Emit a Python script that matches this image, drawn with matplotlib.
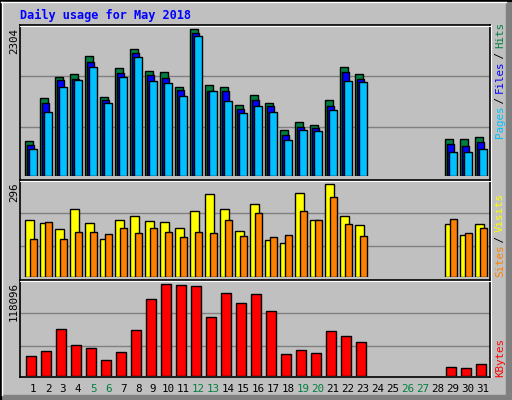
import matplotlib
matplotlib.use("Agg")
import matplotlib.pyplot as plt
from matplotlib.lines import Line2D
from matplotlib.patches import Rectangle

days = list(range(1, 32))
hits = [544,1218,1547,1594,1876,1233,1688,1986,1641,1625,1390,2300,1422,1390,1108,1265,1139,716,842,795,1187,1704,1594,0,0,0,0,0,575,575,611]
files = [481,1139,1500,1516,1782,1187,1610,1923,1578,1531,1343,2237,1328,1328,1045,1187,1092,638,763,748,1092,1625,1516,0,0,0,0,0,497,465,528]
pages = [418,998,1390,1500,1704,1139,1547,1860,1484,1453,1249,2190,1328,1171,983,1092,998,559,716,700,1030,1484,1469,0,0,0,0,0,371,371,418]
visits = [180,171,152,216,171,120,180,193,177,174,155,209,264,216,145,232,116,107,267,180,296,196,164,0,0,0,0,0,168,132,168]
sites = [120,174,120,142,142,136,155,139,155,142,126,142,139,180,129,203,126,132,209,180,254,168,129,0,0,0,0,0,184,139,155]
kbytes = [25350,31790,60120,39500,35640,20200,30480,58810,98720,118096,116800,115500,75560,106450,93580,105160,83280,27920,33080,29220,57540,51100,43380,0,0,0,0,0,11200,9910,15060]
weekend = [5,6,12,13,19,20,26,27]

W, H = 512, 400
fig = plt.figure(figsize=(W/100, H/100), dpi=100)
fig.patch.set_facecolor('#C0C0C0')

def fx(px): return px / W
def fy(py): return 1 - py / H
def hline(x0, x1, y, c, lw=1.0):
    fig.add_artist(Line2D([fx(x0), fx(x1)], [fy(y), fy(y)], color=c, lw=lw, zorder=5))
def vline(x, y0, y1, c, lw=1.0):
    fig.add_artist(Line2D([fx(x), fx(x)], [fy(y0), fy(y1)], color=c, lw=lw, zorder=5))

# outer border and shadow
fig.add_artist(Rectangle((fx(506), 0), fx(6), 1, color='#808080', zorder=-1))
fig.add_artist(Rectangle((0, 0), 1, 5/H, color='#808080', zorder=-1))
hline(0, 512, 0.5, 'black', 1.5); vline(0.5, 0, 400, 'black', 1.5)
hline(1, 506, 2, 'white'); vline(2, 2, 395, 'white')

XL, XR = 20, 490
xmin = 1 - 5/15
xmax = 1 + (XR - 25)/15

def mkax(top, bot, ymax, grids):
    ax = fig.add_axes([fx(XL), fy(bot), fx(XR) - fx(XL), fy(top) - fy(bot)])
    ax.set_facecolor('#C0C0C0')
    ax.set_xlim(xmin, xmax); ax.set_ylim(0, ymax)
    for s in ax.spines.values(): s.set_visible(False)
    ax.set_xticks([]); ax.set_yticks([])
    for g in grids: ax.axhline(g, color='#808080', lw=1, zorder=0)
    return ax

ax1 = mkax(25, 176, 2304*151/147, [768, 1560])
ax2 = mkax(180, 276.7, 309.7, [97.4, 203])
ax3 = mkax(280, 376, 123636, [38636, 80746])

ec = dict(edgecolor='black', linewidth=1.0, align='edge')
def px2d(p): return p / 15
ax1.bar([d for d in days], hits, width=px2d(7.5), color='#008040', **ec, zorder=2)
ax1.bar([d + px2d(2) for d in days], files, width=px2d(7), color='#0000FF', **ec, zorder=3)
ax1.bar([d + px2d(4) for d in days], pages, width=px2d(7.5), color='#00C0FF', **ec, zorder=4)
ax2.bar([d + px2d(0.3) for d in days], visits, width=px2d(8.4), color='#FFFF00', **ec, zorder=2)
ax2.bar([d + px2d(4.7) for d in days], sites, width=px2d(7), color='#FF8000', **ec, zorder=3)
ax3.bar([d + px2d(1.3) for d in days], kbytes, width=px2d(10), color='#FF0000', **ec, zorder=2)
for ax in (ax1, ax2, ax3):
    for p in ax.patches:
        if p.get_height() == 0: p.set_visible(False)

# panel frames
for top, bot in [(25, 180), (180, 280), (280, 377)]:
    hline(XL, XR, top, 'black', 1.2); vline(XL, top, bot, 'black', 1.2)
    vline(XR, top, bot, 'black', 1.2)
    hline(XL, XR, top + 1.3, 'white', 0.8)
hline(XL, XR, 377, 'black', 1.2)
vline(XR + 1.3, 25, 377, 'white', 0.8)

mono = 'DejaVu Sans Mono'
fig.text(fx(20), fy(15), 'Daily usage for May 2018', color='#0000FF', family=mono,
         weight='bold', fontsize=8.6, va='center', ha='left')

for lab, top in [('2304', 28), ('296', 182), ('118096', 282)]:
    fig.text(fx(14), fy(top), lab, rotation=90, family=mono, fontsize=7.8,
             ha='center', va='top', color='black')

for d in days:
    c = '#008040' if d in weekend else 'black'
    fig.text(fx(25 + 15*(d-1) + 8), fy(389), str(d), color=c, family=mono,
             fontsize=7.8, ha='center', va='center')

def vstack(parts, ybottom, x=500):
    y = ybottom
    cw = 5.6
    for txt, col in parts:
        fig.text(fx(x), fy(y), txt, rotation=90, color=col, family=mono,
                 fontsize=7.8, ha='center', va='bottom')
        y -= cw * len(txt)

vstack([('Pages', '#00C0FF'), (' / ', 'black'), ('Files', '#0000FF'),
        (' / ', 'black'), ('Hits', '#008040')], 138)
vstack([('Sites', '#FF8000'), (' / ', 'black'), ('Visits', '#FFFF00')], 277)
vstack([('KBytes', '#FF0000')], 377)

fig.savefig('out.png', dpi=100, facecolor=fig.get_facecolor())
